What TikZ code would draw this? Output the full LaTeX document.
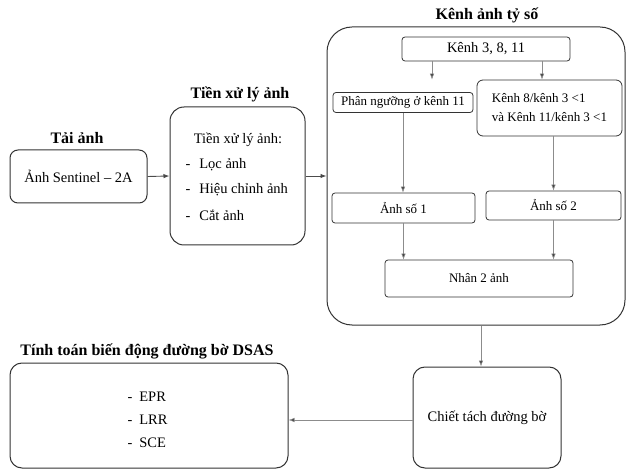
\documentclass[tikz,border=0pt]{standalone}
\usepackage{fontspec}
\setmainfont{LiberationSerif}[Extension=.ttf, UprightFont=*-Regular, BoldFont=*-Bold, ItalicFont=*-Italic, BoldItalicFont=*-BoldItalic]
\usepackage{tikz}
\usetikzlibrary{calc,arrows.meta}

\begin{document}
\begin{tikzpicture}[
  x=1pt,y=-1pt,
  box/.style={draw=black!80,line width=1pt,rounded corners=#1,inner sep=0pt,
    font=\fontsize{14.5}{18}\selectfont,align=center},
  box/.default=8pt,
  inbox/.style={draw=black!80,line width=0.8pt,rounded corners=3pt,inner sep=0pt,
    font=\fontsize{13}{17}\selectfont,align=center},
  title/.style={font=\fontsize{16}{19}\selectfont\bfseries},
  arr/.style={draw=black!45,line width=0.6pt,-{Latex[length=6pt,width=4.5pt,fill=black!75]}},
  arr2/.style={draw=black!70,line width=0.9pt,-{Latex[length=6pt,width=4.5pt,fill=black!75]}}
  ]
\useasboundingbox (0,0) rectangle (626,470);
% left part
\node[box, minimum width=137, minimum height=53] (sentinel) at (78.5,176.5) {Ảnh Sentinel -- 2A};
\node[title] (tTai) at (77,138) {Tải ảnh};
\node[box=14pt, minimum width=135, minimum height=138] (pre) at (237.5,176) {};
\node[title] (tPre) at (240,94) {Tiền xử lý ảnh};
\node[font=\fontsize{14.5}{18}\selectfont] (preHead) at (238,140) {Tiền xử lý ảnh:};
\node[font=\fontsize{14.5}{18}\selectfont,anchor=west] (pre1) at (182,165) {-\hspace{9pt}Lọc ảnh};
\node[font=\fontsize{14.5}{18}\selectfont,anchor=west] (pre2) at (182,190) {-\hspace{9pt}Hiệu chỉnh ảnh};
\node[font=\fontsize{14.5}{18}\selectfont,anchor=west] (pre3) at (182,215) {-\hspace{9pt}Cắt ảnh};
% band ratio block
\node[box=25pt, minimum width=298, minimum height=298] (big) at (476,176) {};
\node[title] (tBig) at (487,15) {Kênh ảnh tỷ số};
\node[inbox, minimum width=168, minimum height=24, font=\fontsize{14.5}{18}\selectfont] (kenh) at (486,49) {Kênh 3, 8, 11};
\node[inbox, minimum width=140, minimum height=20] (phan) at (403,102.5) {Phân ngưỡng ở kênh 11};
\node[inbox, minimum width=145, minimum height=56, align=left, rounded corners=6pt] (ratio) at (549.5,108) {Kênh 8/kênh 3 <1\\[2pt]và Kênh 11/kênh 3 <1};
\node[inbox, minimum width=143, minimum height=30] (anh1) at (403.5,208) {Ảnh số 1};
\node[inbox, minimum width=135, minimum height=29] (anh2) at (553.5,205.5) {Ảnh số 2};
\node[inbox, minimum width=188, minimum height=37] (nhan) at (479,278.5) {Nhân 2 ảnh};
% bottom part
\node[box=12pt, minimum width=148, minimum height=101] (chiet) at (487,417.5) {Chiết tách đường bờ};
\node[box=12pt, minimum width=278, minimum height=105] (dsas) at (149,415.5) {};
\node[title] (tDsas) at (147,351) {Tính toán biến động đường bờ DSAS};
\node[font=\fontsize{14.5}{18}\selectfont,anchor=west] (d1) at (124,397) {-\hspace{7pt}EPR};
\node[font=\fontsize{14.5}{18}\selectfont,anchor=west] (d2) at (124,420) {-\hspace{7pt}LRR};
\node[font=\fontsize{14.5}{18}\selectfont,anchor=west] (d3) at (124,443) {-\hspace{7pt}SCE};
% connectors
\coordinate (kL) at ([xshift=-54pt]kenh.south);
\coordinate (kR) at ([xshift=56pt]kenh.south);
\draw[arr2] (sentinel.east) -- (pre.west);
\draw[arr2] (pre.east) -- (big.west);
\draw[arr] (kL) -- (kL |- ratio.north);
\draw[arr] (kR) -- (kR |- ratio.north);
\draw[arr] (phan.south) -- (phan.south |- anh1.north);
\draw[arr] (anh2.north |- ratio.south) -- (anh2.north);
\draw[arr] (anh1.south) -- (anh1.south |- nhan.north);
\draw[arr] (anh2.south) -- (anh2.south |- nhan.north);
\draw[arr] ([xshift=-6pt]chiet.north |- big.south) -- ([xshift=-6pt]chiet.north);
\draw[arr] (chiet.west |- 0,420) -- (dsas.east |- 0,420);
\end{tikzpicture}
\end{document}
